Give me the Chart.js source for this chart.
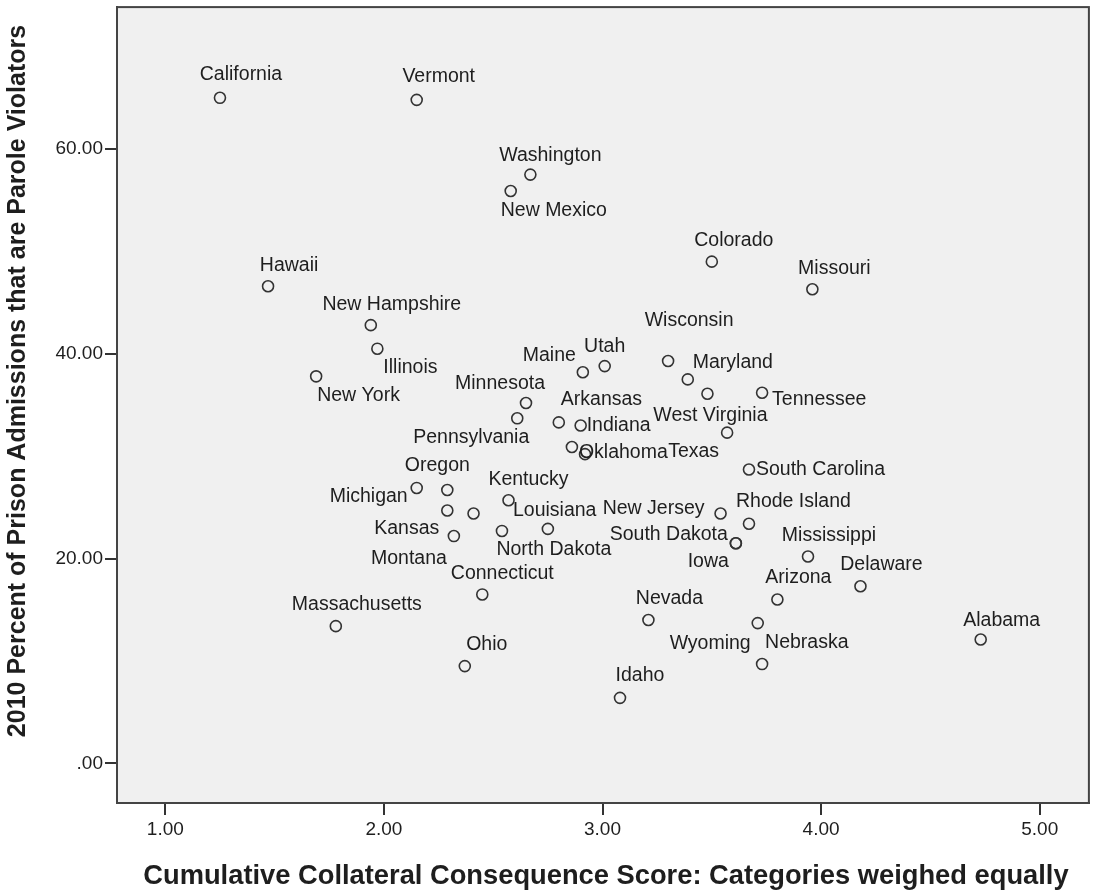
<!DOCTYPE html>
<html>
<head>
<meta charset="utf-8">
<script src="https://cdn.jsdelivr.net/npm/chart.js@4.4.1/dist/chart.umd.min.js"></script>
<style>
  html, body { margin: 0; padding: 0; background: #ffffff; }
  #wrap { width: 1096px; height: 893px; position: relative; }
</style>
</head>
<body>
<div id="wrap"><canvas id="chart"></canvas></div>
<script>
// State names ('' = point drawn without a label)
const states = [
  'California', 'Vermont', 'Washington', 'New Mexico', 'Colorado', 'Missouri',
  'Hawaii', 'New Hampshire', 'Illinois', 'New York', 'Wisconsin', 'Maine',
  'Utah', 'Maryland', 'West Virginia', 'Tennessee', 'Minnesota', 'Pennsylvania',
  'Arkansas', 'Indiana', 'Texas', 'Oklahoma', '', 'South Carolina',
  'Michigan', 'Oregon', 'Kentucky', 'Kansas', '', 'New Jersey',
  'Rhode Island', 'Louisiana', 'North Dakota', 'Montana', 'South Dakota', 'Iowa',
  'Mississippi', 'Delaware', 'Arizona', 'Connecticut', 'Massachusetts', 'Nevada',
  'Wyoming', 'Alabama', 'Nebraska', 'Ohio', 'Idaho'
];

// Cumulative collateral consequence score (categories weighed equally)
const collateralScore = [
  1.25, 2.15, 2.67, 2.58, 3.50, 3.96,
  1.47, 1.94, 1.97, 1.69, 3.30, 2.91,
  3.01, 3.39, 3.48, 3.73, 2.65, 2.61,
  2.80, 2.90, 3.57, 2.86, 2.92, 3.67,
  2.15, 2.29, 2.57, 2.29, 2.41, 3.54,
  3.67, 2.54, 2.75, 2.32, 3.61, 3.61,
  3.94, 4.18, 3.80, 2.45, 1.78, 3.21,
  3.71, 4.73, 3.73, 2.37, 3.08
];

// 2010 percent of prison admissions that are parole violators
const paroleViolatorPct = [
  65.0, 64.8, 57.5, 55.9, 49.0, 46.3,
  46.6, 42.8, 40.5, 37.8, 39.3, 38.2,
  38.8, 37.5, 36.1, 36.2, 35.2, 33.7,
  33.3, 33.0, 32.3, 30.9, 30.2, 28.7,
  26.9, 26.7, 25.7, 24.7, 24.4, 24.4,
  23.4, 22.7, 22.9, 22.2, 21.5, 21.5,
  20.2, 17.3, 16.0, 16.5, 13.4, 14.0,
  13.7, 12.1, 9.7, 9.5, 6.4
];

const xTickValues = [1, 2, 3, 4, 5];
const xTickLabels = ['1.00', '2.00', '3.00', '4.00', '5.00'];
const yTickValues = [0, 20, 40, 60];
const yTickLabels = ['.00', '20.00', '40.00', '60.00'];

const xTitle = 'Cumulative Collateral Consequence Score: Categories weighed equally';
const yTitle = '2010 Percent of Prison Admissions that are Parole Violators';

// Where each point's name sits relative to its marker: [dx, dy, align]
const labelPlacement = [
  [21, -23, 'c'], [22, -23, 'c'], [20, -19, 'c'], [-10, 20, 'l'], [22, -21, 'c'], [22, -21, 'c'],
  [21, -21, 'c'], [21, -21, 'c'], [6, 19, 'l'], [1, 19, 'l'], [21, -40, 'c'], [-7, -17, 'r'],
  [0, -19, 'c'], [5, -17, 'l'], [3, 22, 'c'], [10, 7, 'l'], [-26, -19, 'c'], [-46, 19, 'c'],
  [2, -23, 'l'], [6, 0, 'l'], [-8, 19, 'r'], [7, 6, 'l'], [0, 0, 'c'], [7, 0, 'l'],
  [-9, 9, 'r'], [-10, -24, 'c'], [20, -21, 'c'], [-8, 18, 'r'], [0, 0, 'c'], [-16, -5, 'r'],
  [-13, -22, 'l'], [11, -20, 'l'], [6, 21, 'c'], [-7, 23, 'r'], [-8, -9, 'r'], [-7, 18, 'r'],
  [21, -21, 'c'], [21, -22, 'c'], [21, -22, 'c'], [20, -21, 'c'], [21, -22, 'c'], [21, -21, 'c'],
  [-7, 21, 'r'], [21, -19, 'c'], [3, -21, 'l'], [22, -21, 'c'], [20, -22, 'c']
];

const points = collateralScore.map((x, i) => ({ x: x, y: paroleViolatorPct[i] }));

const LABEL_FONT = '19.5px "Liberation Sans", Arial, sans-serif';
const Y_TITLE_FONT = 'bold 25px "Liberation Sans", Arial, sans-serif';
const X_TITLE_FONT = 'bold 27.3px "Liberation Sans", Arial, sans-serif';
const INK = '#1e1e1e';

// Grey plot panel behind the data and a frame around it
const panelPlugin = {
  id: 'panel',
  beforeDraw(chart) {
    const { ctx, chartArea: a } = chart;
    ctx.save();
    ctx.fillStyle = '#f0f0f0';
    ctx.fillRect(a.left, a.top, a.right - a.left, a.bottom - a.top);
    ctx.restore();
  },
  afterDraw(chart) {
    const { ctx, chartArea: a } = chart;
    ctx.save();
    ctx.strokeStyle = '#444444';
    ctx.lineWidth = 2;
    ctx.strokeRect(a.left, a.top, a.right - a.left, a.bottom - a.top);
    ctx.restore();
  }
};

// State name next to each marker
const pointLabelPlugin = {
  id: 'pointLabels',
  afterDatasetsDraw(chart) {
    const { ctx } = chart;
    const meta = chart.getDatasetMeta(0);
    ctx.save();
    ctx.font = LABEL_FONT;
    ctx.fillStyle = INK;
    ctx.textBaseline = 'middle';
    meta.data.forEach((el, i) => {
      const name = states[i];
      if (!name) return;
      const [dx, dy, al] = labelPlacement[i];
      ctx.textAlign = al === 'l' ? 'left' : (al === 'r' ? 'right' : 'center');
      ctx.fillText(name, el.x + dx, el.y + dy);
    });
    ctx.restore();
  }
};

// Axis titles
const axisTitlePlugin = {
  id: 'axisTitles',
  afterDraw(chart) {
    const { ctx, chartArea: a } = chart;
    ctx.save();
    ctx.fillStyle = INK;
    ctx.textAlign = 'center';
    ctx.textBaseline = 'middle';
    ctx.font = X_TITLE_FONT;
    ctx.fillText(xTitle, (a.left + a.right) / 2 + 3, 876);
    ctx.font = Y_TITLE_FONT;
    ctx.translate(18, 381);
    ctx.rotate(-Math.PI / 2);
    ctx.fillText(yTitle, 0, 0);
    ctx.restore();
  }
};

new Chart(document.getElementById('chart'), {
  type: 'scatter',
  data: {
    datasets: [{
      data: points,
      pointRadius: 5.5,
      pointHoverRadius: 5.5,
      pointBorderWidth: 1.6,
      pointBorderColor: '#333333',
      pointBackgroundColor: 'rgba(0,0,0,0)'
    }]
  },
  options: {
    responsive: true,
    maintainAspectRatio: false,
    animation: false,
    events: [],
    layout: { padding: { top: 3, right: 5, left: 0, bottom: 0 } },
    plugins: { legend: { display: false }, tooltip: { enabled: false } },
    scales: {
      x: {
        type: 'linear',
        min: 0.779,
        max: 5.225,
        afterBuildTicks(scale) { scale.ticks = xTickValues.map(v => ({ value: v })); },
        afterFit(scale) { scale.height = 90; scale.paddingLeft = 0; scale.paddingRight = 0; },
        ticks: {
          callback: (v) => xTickLabels[xTickValues.indexOf(v)],
          font: { family: '"Liberation Sans", Arial, sans-serif', size: 19 },
          color: INK,
          padding: 3,
          maxRotation: 0,
          autoSkip: false
        },
        grid: { drawOnChartArea: false, drawTicks: true, tickLength: 12, color: '#333333', lineWidth: 2 },
        border: { display: true, color: '#444444', width: 2 }
      },
      y: {
        type: 'linear',
        min: -3.87,
        max: 73.86,
        afterBuildTicks(scale) { scale.ticks = yTickValues.map(v => ({ value: v })); },
        afterFit(scale) { scale.width = 117; scale.paddingTop = 0; scale.paddingBottom = 0; },
        ticks: {
          callback: (v) => yTickLabels[yTickValues.indexOf(v)],
          font: { family: '"Liberation Sans", Arial, sans-serif', size: 19 },
          color: INK,
          padding: 2,
          autoSkip: false
        },
        grid: { drawOnChartArea: false, drawTicks: true, tickLength: 12, color: '#333333', lineWidth: 2 },
        border: { display: true, color: '#444444', width: 2 }
      }
    }
  },
  plugins: [panelPlugin, pointLabelPlugin, axisTitlePlugin]
});
</script>
</body>
</html>
